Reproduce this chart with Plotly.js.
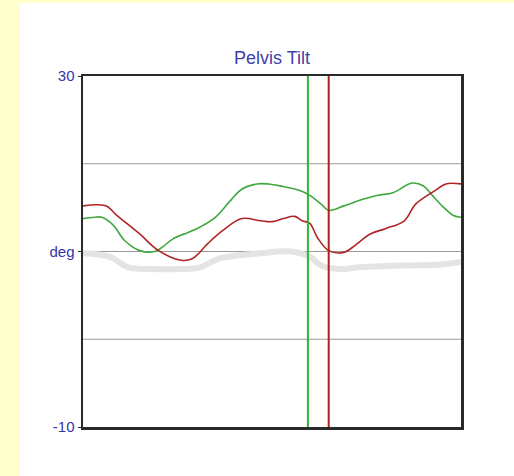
<!DOCTYPE html>
<html>
<head>
<meta charset="utf-8">
<script src="https://cdn.plot.ly/plotly-3.0.1.min.js"></script>
<style>
  html, body { margin: 0; padding: 0; background: #FFFFCC; width: 514px; height: 476px; overflow: hidden; }
  #chart { position: absolute; left: 20px; top: 3px; width: 494px; height: 473px; background: #ffffff; }
</style>
</head>
<body>
<div id="chart"></div>
<script>
// Percent of gait cycle and pelvis tilt (deg)
const redX   = [0, 6, 9, 15, 20, 26, 29, 33, 37, 42, 47, 50, 53, 56, 58, 60, 62, 65, 69, 72, 76, 80, 85, 88, 93, 96, 100];
const redY   = [15.2, 15.2, 14.1, 12.0, 10.1, 9.0, 9.2, 10.9, 12.4, 13.75, 13.5, 13.4, 13.75, 14.0, 13.5, 13.2, 11.6, 10.1, 9.9, 10.7, 12.0, 12.6, 13.5, 15.4, 16.9, 17.7, 17.7];
const greenX = [0, 3, 5, 8, 11, 15, 19, 21, 24, 28, 31, 35, 39, 42, 46, 49, 53, 57, 60, 63, 65, 69, 73, 78, 82, 87, 90, 92, 95, 98, 100];
const greenY = [13.75, 13.9, 13.9, 13.0, 11.25, 10.1, 10.0, 10.5, 11.5, 12.2, 12.8, 13.9, 15.8, 17.1, 17.7, 17.7, 17.4, 17.0, 16.4, 15.4, 14.7, 15.2, 15.8, 16.4, 16.7, 17.8, 17.5, 16.6, 15.2, 14.1, 13.9];
const normX  = [0, 7, 12, 18, 26, 31, 36, 47, 55, 60, 63, 68, 73, 84, 94, 100];
const normY  = [9.8, 9.4, 8.2, 8.0, 8.0, 8.2, 9.2, 9.8, 10.0, 9.4, 8.4, 8.0, 8.2, 8.4, 8.5, 8.8];
const refLines = [20, 10, 0];
const events = [59.5, 65];
const eventColors = ['#2fb52f', '#b01e1e'];
const tickVals = [30, 10, -10];
const tickText = ['30', 'deg', '-10'];

const traces = [
  { x: normX, y: normY, mode: 'lines', line: { color: '#e4e4e4', width: 6, shape: 'spline' }, hoverinfo: 'skip' },
  { x: greenX, y: greenY, mode: 'lines', line: { color: '#3fa83f', width: 1.6, shape: 'spline' } },
  { x: redX, y: redY, mode: 'lines', line: { color: '#b02424', width: 1.6, shape: 'spline' } }
];

const shapes = [];
refLines.forEach(v => shapes.push({ type: 'line', xref: 'paper', x0: 0, x1: 1, yref: 'y', y0: v, y1: v, layer: 'below', line: { color: '#9a9a9a', width: 1.2 } }));
events.forEach((v, i) => shapes.push({ type: 'line', xref: 'x', x0: v, x1: v, yref: 'paper', y0: 0, y1: 1, line: { color: eventColors[i], width: 2 } }));

const layout = {
  width: 494, height: 473,
  margin: { l: 63, r: 53, t: 73, b: 49 },
  paper_bgcolor: '#ffffff', plot_bgcolor: '#ffffff',
  showlegend: false,
  title: { text: 'Pelvis Tilt', font: { family: 'Arial, Liberation Sans, sans-serif', size: 18, color: '#3f3fa8' }, x: 0.5, xanchor: 'center', y: 0.885, yanchor: 'middle', xref: 'paper' },
  xaxis: { range: [0, 100], showticklabels: false, ticks: '', showgrid: false, zeroline: false, showline: true, mirror: true, linecolor: '#2a2a2a', linewidth: 2.5 },
  yaxis: { range: [-10, 30], tickvals: tickVals, ticktext: tickText, ticks: 'outside', ticklen: 3, tickcolor: '#2a2a2a', showgrid: false, zeroline: false, showline: true, mirror: true, linecolor: '#2a2a2a', linewidth: 2.5,
           tickfont: { family: 'Arial, Liberation Sans, sans-serif', size: 15, color: '#3535a5' } },
  shapes: shapes
};

Plotly.newPlot('chart', traces, layout, { staticPlot: true, displayModeBar: false });
</script>
</body>
</html>
